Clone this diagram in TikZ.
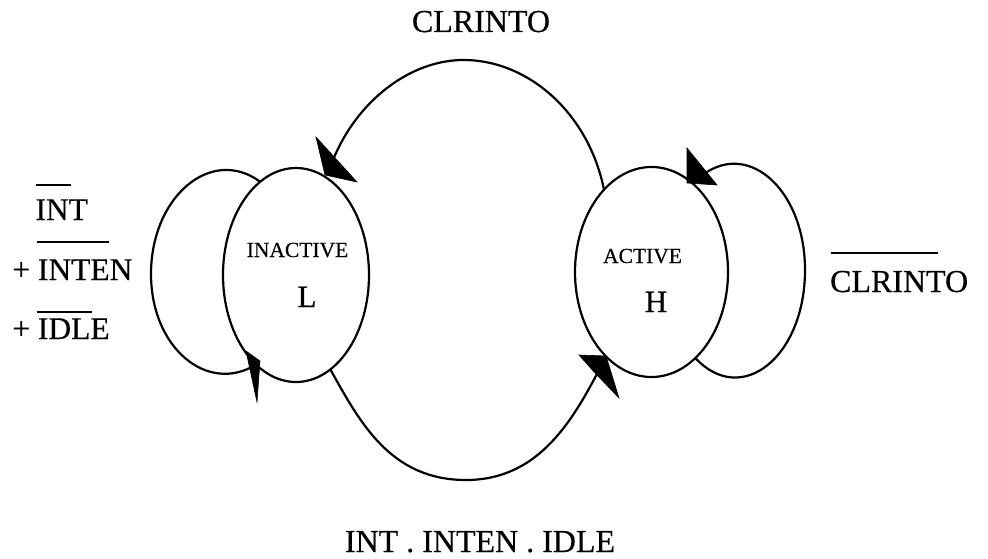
\documentclass[tikz,border=0pt]{standalone}
\usepackage{fontspec}
\setmainfont{Liberation Serif}[FakeBold=0.4]
\usetikzlibrary{shapes.geometric}
\newcommand\ovlr[4]{\rlap{\kern#3\rule[#2]{#1}{2pt}}#4}
\begin{document}
\begin{tikzpicture}[x=1pt,y=-1pt,line width=2.2pt,
  state/.style={draw,ellipse,inner sep=0pt,outer sep=0pt},
  edgeline/.style={draw,line width=2.2pt},
  head/.style={fill=black,draw=black,line width=0.6pt,line join=miter},
  bigtxt/.style={font=\fontsize{32}{36}\selectfont,inner sep=0pt},
  lbltxt/.style={font=\fontsize{31.5}{36}\selectfont,inner sep=0pt,anchor=base west},
  smalltxt/.style={font=\fontsize{21.5}{24}\selectfont,inner sep=0pt,anchor=base},
  lettertxt/.style={font=\fontsize{31}{36}\selectfont,inner sep=0pt,anchor=base}]
\path[fill=white] (0,0) rectangle (988,559);
\useasboundingbox (0,0) rectangle (988,559);

% states
\node[state,minimum width=146pt,minimum height=214pt] (L) at (296,275) {};
\node[state,minimum width=153pt,minimum height=210pt] (H) at (651.5,272) {};

% texts inside states
\node[smalltxt] (tIn) at (297.5,257) {INACTIVE};
\node[lettertxt] (tL) at (307,307) {L};
\node[smalltxt] (tAc) at (642.5,263) {ACTIVE};
\node[lettertxt] (tH) at (656,312) {H};

% helper coordinates
\coordinate (ctop) at (463.5,60);
\coordinate (aL) at (333,160);
\coordinate (cbot) at (466,480);
\coordinate (aH) at (599,370);
\coordinate (lL) at (151,274);
\coordinate (rL) at (805,270);
\coordinate (aRL) at (704,174);

% transition H -> L (top)
\path[edgeline] (H.120.6) .. controls +(-15.3,-76.3) and +(65.1,0) .. (ctop)
   .. controls +(-53.9,0) and +(23.6,-58.4) .. (aL);
% transition L -> H (bottom)
\path[edgeline] (L.-70) .. controls +(30,54) and +(-75,0) .. (cbot)
   .. controls +(70,0) and +(-28.5,55) .. (aH);
% self loop on L
\path[edgeline] (L.111.4) .. controls +(-49.3,-36.1) and +(0,-77) .. (lL)
   .. controls +(0,73.8) and +(-48.9,30) .. (L.-114);
% self loop on H
\path[edgeline] (aRL) .. controls +(46.4,-33.1) and +(0,-78.3) .. (rL)
   .. controls +(0,86.6) and +(46.4,49.7) .. (H.-63.2);

% arrowheads
\path[head] (316,137) -- (357,182) -- (325,175) -- cycle;
\path[head] (246,351) -- (260,361) -- (257,402) -- cycle;
\path[head] (579,355) -- (606,356) -- (619,398) -- (595,373) -- cycle;
\path[head] (687,148) -- (717,185) -- (687,183) -- cycle;

% labels
\node[bigtxt,anchor=base] (lblTop) at (481,32) {CLRINTO};
\node[bigtxt,anchor=base] (lblBot) at (480,552) {INT . INTEN . IDLE};
\node[bigtxt,anchor=base west] (lblRight) at (829,292) {\ovlr{107pt}{38pt}{0.9pt}{CLRINTO}};
\node[lbltxt] (lblA) at (34.4,220) {\ovlr{35pt}{34pt}{0.6pt}{INT}};
\node[lbltxt] (lblB) at (11.2,280) {+ \ovlr{72pt}{37pt}{-1.4pt}{INTEN}};
\node[lbltxt] (lblC) at (11.2,339) {+ \ovlr{55pt}{26pt}{-1.4pt}{IDLE}};
\end{tikzpicture}
\end{document}
